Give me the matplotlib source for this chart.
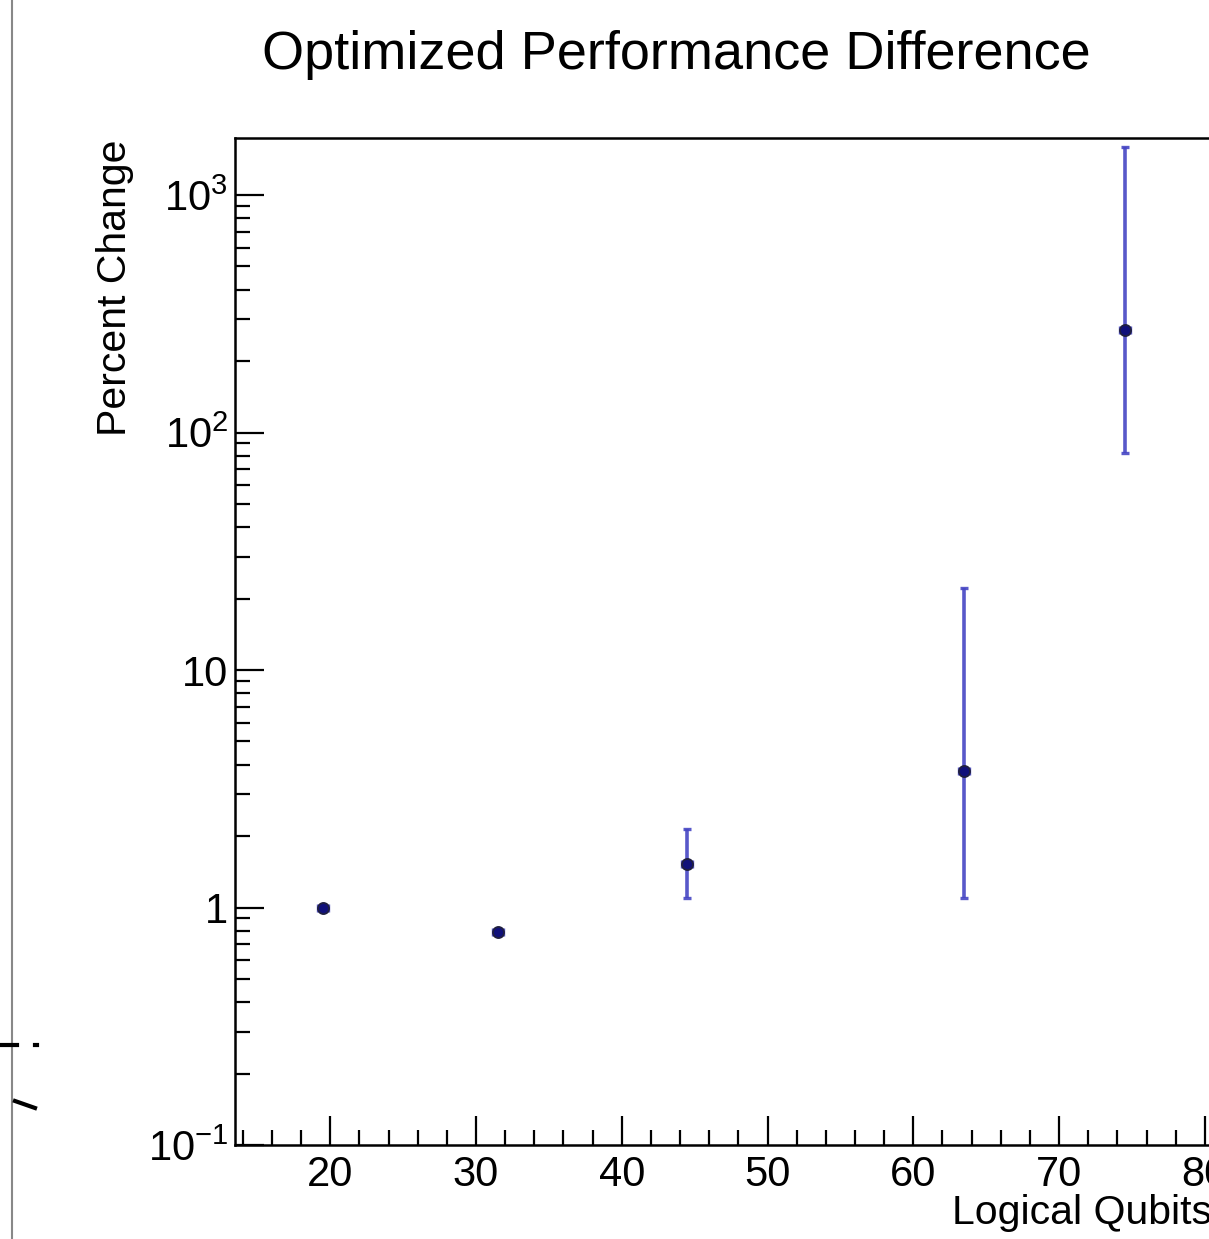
import matplotlib.pyplot as plt
from matplotlib.ticker import FixedLocator, FixedFormatter, MultipleLocator, LogLocator, NullFormatter
import numpy as np

plt.rcParams["font.family"] = ["Liberation Sans", "DejaVu Sans"]
plt.rcParams["mathtext.fontset"] = "custom"
plt.rcParams["mathtext.rm"] = "Liberation Sans"
plt.rcParams["mathtext.it"] = "Liberation Sans"

# ---- data ----
qubits = [19.5, 31.5, 44.5, 63.5, 74.5]
pct_change = [1.0, 0.785, 1.52, 3.77, 271.0]
err_low = [1.0, 0.785, 1.10, 1.10, 81.6]
err_high = [1.0, 0.785, 2.15, 22.2, 1585.0]

y_ticks = [0.1, 1, 10, 100, 1000]
y_labels = ["$10^{-1}$", "1", "10", "$10^{2}$", "$10^{3}$"]

# ---- figure ----
W, H = 1209, 1239
fig = plt.figure(figsize=(W / 100, H / 100), dpi=100)
ax = fig.add_axes([235 / W, (H - 1145) / H, (1234 - 235) / W, (1145 - 138) / H])

y = np.array(pct_change)
yerr = [y - np.array(err_low), np.array(err_high) - y]
ax.errorbar(qubits, pct_change, yerr=yerr, xerr=0.35, fmt="none",
            ecolor="#4646c4", elinewidth=2.6, capsize=3, capthick=2.4, alpha=0.9)
ax.plot(qubits, pct_change, "o", ms=8, mfc="#10107a", mec="#202040", mew=1.3)

ax.set_yscale("log")
ax.set_xlim(13.47, 82)
ax.set_ylim(0.1, 10 ** 3.24)

ax.xaxis.set_major_locator(MultipleLocator(10))
ax.xaxis.set_minor_locator(MultipleLocator(2))
ax.yaxis.set_major_locator(FixedLocator(y_ticks))
ax.yaxis.set_major_formatter(FixedFormatter(y_labels))
ax.yaxis.set_minor_locator(LogLocator(base=10, subs=np.arange(2, 10)))
ax.yaxis.set_minor_formatter(NullFormatter())

ax.tick_params(which="both", direction="in", top=False, right=False, width=1.6, labelsize=30)
ax.tick_params(which="major", length=21)
ax.tick_params(which="minor", length=10.5)
ax.tick_params(axis="x", pad=7)
ax.tick_params(axis="y", pad=5)
for s in ax.spines.values():
    s.set_linewidth(1.8)

fig.text(676 / W, 1 - 55 / H, "Optimized Performance Difference", ha="center", va="center", fontsize=39)
fig.text(1212 / W, 1 - 1213 / H, "Logical Qubits", ha="right", va="center", fontsize=29.5)
fig.text(115 / W, 1 - 139 / H, "Percent Change", ha="center", va="top", rotation=90, fontsize=29.5)

# leftover bits of the neighbouring panel
fig.add_artist(plt.Line2D([12 / W, 12 / W], [0, 1], color="#888888", lw=1.5))
fig.add_artist(plt.Line2D([0, 17 / W], [1 - 1045 / H, 1 - 1045 / H], color="black", lw=3))
fig.add_artist(plt.Line2D([35 / W, 37 / W], [1 - 1045 / H, 1 - 1045 / H], color="black", lw=3))
fig.add_artist(plt.Line2D([15 / W, 35 / W], [1 - 1101 / H, 1 - 1108 / H], color="black", lw=3))

fig.savefig("out.png", dpi=100)
